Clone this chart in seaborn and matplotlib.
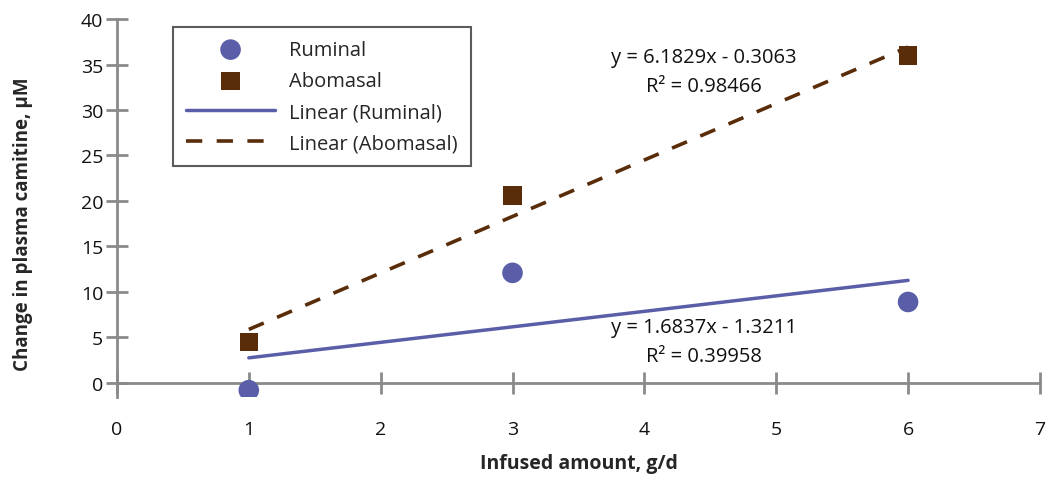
import matplotlib
matplotlib.use("Agg")
import matplotlib.pyplot as plt
import seaborn as sns
import pandas as pd

dose = [1, 3, 6]
ruminal = [-0.8, 12.1, 8.9]
abomasal = [4.5, 20.6, 36.0]
eq_abomasal = ["y = 6.1829x - 0.3063", "R² = 0.98466"]
eq_ruminal = ["y = 1.6837x - 1.3211", "R² = 0.39958"]
x_ticks = [0, 1, 2, 3, 4, 5, 6, 7]
y_ticks = [0, 5, 10, 15, 20, 25, 30, 35, 40]

sns.set_theme(style="white")
plt.rcParams['font.family'] = ['Open Sans', 'DejaVu Sans']

blue = "#5a5ea8"
brown = "#5a2d0a"
axis_gray = "#8a8a8a"

df = pd.DataFrame({"dose": dose, "ruminal": ruminal, "abomasal": abomasal})

fig = plt.figure(figsize=(10.48, 4.81), dpi=100)
ax = fig.add_axes([0.1116, 0.1734, 0.8807, 0.7850])

for s in ["top", "right"]:
    ax.spines[s].set_visible(False)
ax.spines["bottom"].set_position(("data", 0))
for s in ["bottom", "left"]:
    ax.spines[s].set_color(axis_gray)
    ax.spines[s].set_linewidth(2)

sns.scatterplot(data=df, x="dose", y="ruminal", ax=ax, color=blue, marker="o",
                s=220, edgecolor="none", label="Ruminal", zorder=3)
sns.scatterplot(data=df, x="dose", y="abomasal", ax=ax, color=brown, marker="s",
                s=175, edgecolor="none", label="Abomasal", zorder=3)
sns.regplot(data=df, x="dose", y="ruminal", ax=ax, scatter=False, ci=None,
            color=blue, line_kws={"lw": 2.5})
ax.lines[-1].set_label("Linear (Ruminal)")
sns.regplot(data=df, x="dose", y="abomasal", ax=ax, scatter=False, ci=None,
            color=brown, line_kws={"lw": 2.6, "ls": (0, (4.5, 4))})
ax.lines[-1].set_label("Linear (Abomasal)")

ax.set_xlim(0, 7)
ax.set_ylim(-1.5, 40)
ax.set_xticks(x_ticks)
ax.set_yticks(y_ticks)
ax.set_xticklabels([str(t) for t in x_ticks], fontsize=14)
ax.set_yticklabels([str(t) for t in y_ticks], fontsize=14)

ax.tick_params(axis="both", direction="inout", length=16, width=2, color=axis_gray,
               labelcolor="#111111", bottom=True, left=True)
ax.tick_params(axis="x", pad=19)
ax.tick_params(axis="y", pad=2)

ax.set_xlabel("Infused amount, g/d", fontsize=14, fontweight="bold")
ax.set_ylabel("Change in plasma camitine, μM", fontsize=13.5, fontweight="bold")
ax.xaxis.set_label_coords(0.5, -0.15)
ax.yaxis.set_label_coords(-0.091, 0.46)

eq_kw = dict(fontsize=14.5, ha="center", va="center", color="#111111")
ax.text(4.45, 35.8, eq_abomasal[0], **eq_kw)
ax.text(4.45, 32.6, eq_abomasal[1], **eq_kw)
ax.text(4.45, 6.2, eq_ruminal[0], **eq_kw)
ax.text(4.45, 3.0, eq_ruminal[1], **eq_kw)

handles, labels = ax.get_legend_handles_labels()
leg = ax.legend(handles, labels, loc="upper left", bbox_to_anchor=(0.05, 1.006),
                fontsize=14.5, frameon=True, fancybox=False, handlelength=4.4,
                handletextpad=0.7, labelspacing=0.55, borderpad=0.65, markerscale=1.0)
leg.get_frame().set_edgecolor("#333333")
leg.get_frame().set_linewidth(1.5)

fig.savefig("out.png", dpi=100)
